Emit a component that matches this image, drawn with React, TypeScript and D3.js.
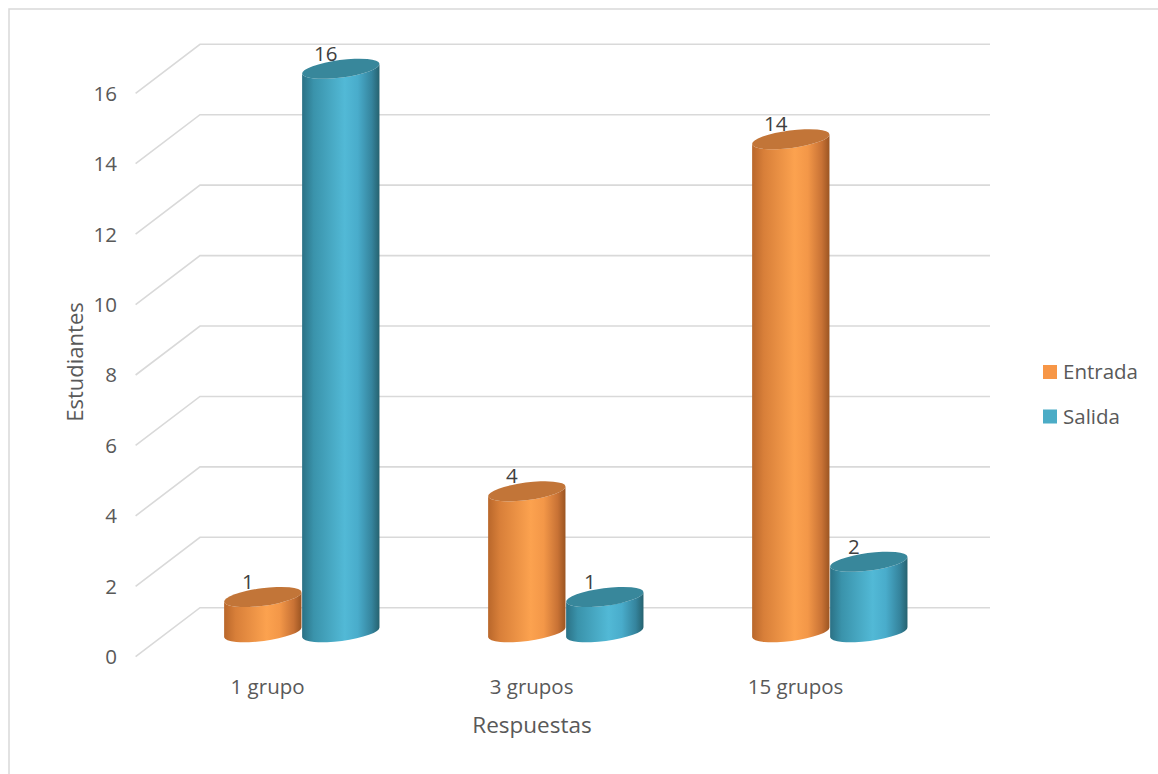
import React from "react";
import * as d3 from "d3";

// Data
const categories = ["1 grupo", "3 grupos", "15 grupos"];
const seriesNames = ["Entrada", "Salida"];
const entrada = [1, 4, 14];
const salida = [16, 1, 2];
const yTicks = [0, 2, 4, 6, 8, 10, 12, 14, 16];

const W = 1158;
const H = 774;

// Oblique 3D frame: back wall plus a depth offset towards the viewer
const DEPTH_DX = -64.4;
const DEPTH_DY = 49;
const BAR_DEPTH = 0.5;

const yBack = d3.scaleLinear().domain([0, 16]).range([607.7, 44.3]);
const xBack = d3.scaleBand<string>().domain(categories).range([200, 992]).paddingInner(0).paddingOuter(0);
const xSeries = d3.scaleBand<string>().domain(seriesNames).range([-76, 80]);

const GRID_LEFT = 200;
const GRID_RIGHT = 990;

const RX = 39;
const RY = 8.8;
const TILT = -7.4;
const tRad = (Math.abs(TILT) * Math.PI) / 180;

const FONT = "'Open Sans', 'Noto Sans', sans-serif";
const TEXT = "#595959";

const seriesValues = [entrada, salida];
const gradIds = ["gradEntrada", "gradSalida"];
const topFill = ["#c27538", "#38879b"];

function cylinderBody(cx: number, yTop: number, yBot: number) {
  const dx = RX * Math.cos(tRad);
  const dy = RX * Math.sin(tRad);
  const p = d3.path();
  p.moveTo(cx - dx, yTop + dy);
  p.lineTo(cx - dx, yBot + dy);
  let s = p.toString();
  s += ` A ${RX} ${RY} ${TILT} 0 0 ${cx + dx} ${yBot - dy}`;
  s += ` L ${cx + dx} ${yTop - dy}`;
  s += ` A ${RX} ${RY} ${TILT} 0 1 ${cx - dx} ${yTop + dy} Z`;
  return s;
}

export default function App() {
  const midDX = DEPTH_DX * BAR_DEPTH;
  const midDY = DEPTH_DY * BAR_DEPTH;
  const bw = xBack.bandwidth();

  return (
    <svg
      width={W}
      height={H}
      viewBox={`0 0 ${W} ${H}`}
      style={{ position: "absolute", left: 0, top: 0, background: "#fff" }}
      fontFamily={FONT}
    >
      <defs>
        <linearGradient id="gradEntrada" x1="0" x2="1" y1="0" y2="0">
          <stop offset="0" stopColor="#b9672b" />
          <stop offset="0.15" stopColor="#d87f39" />
          <stop offset="0.55" stopColor="#fca24f" />
          <stop offset="0.72" stopColor="#f39748" />
          <stop offset="0.9" stopColor="#c87235" />
          <stop offset="1" stopColor="#9b5522" />
        </linearGradient>
        <linearGradient id="gradSalida" x1="0" x2="1" y1="0" y2="0">
          <stop offset="0" stopColor="#2b7185" />
          <stop offset="0.15" stopColor="#3a93ab" />
          <stop offset="0.55" stopColor="#52b9d6" />
          <stop offset="0.72" stopColor="#49accb" />
          <stop offset="0.9" stopColor="#35849d" />
          <stop offset="1" stopColor="#26626f" />
        </linearGradient>
      </defs>

      {/* chart area border */}
      <rect x={9} y={9} width={1200} height={820} fill="none" stroke="#d9d9d9" strokeWidth={1.5} />

      {/* gridlines: back wall + side wall diagonals */}
      <g stroke="#d9d9d9" strokeWidth={1.6} fill="none">
        {yTicks.map((t) => (
          <path
            key={t}
            d={`M ${GRID_LEFT + DEPTH_DX} ${yBack(t) + DEPTH_DY} L ${GRID_LEFT} ${yBack(t)} L ${GRID_RIGHT} ${yBack(t)}`}
          />
        ))}
      </g>

      {/* y tick labels */}
      <g fontSize={20.5} fill={TEXT} textAnchor="end">
        {yTicks.map((t) => (
          <text key={t} x={117} y={yBack(t) + DEPTH_DY} dy="0.36em">
            {t}
          </text>
        ))}
      </g>

      {/* cylinders */}
      {categories.map((c, ci) => {
        const catX = (xBack(c) as number) + bw / 2 + midDX;
        const base = yBack(0) + midDY;
        return (
          <g key={c}>
            {seriesNames.map((s, si) => {
              const v = seriesValues[si][ci];
              const cx = catX + (xSeries(s) as number) + xSeries.bandwidth() / 2;
              const yTop = yBack(v) + midDY;
              return (
                <g key={s}>
                  <path d={cylinderBody(cx, yTop, base)} fill={`url(#${gradIds[si]})`} />
                  <ellipse
                    cx={cx}
                    cy={yTop}
                    rx={RX}
                    ry={RY}
                    transform={`rotate(${TILT} ${cx} ${yTop})`}
                    fill={topFill[si]}
                  />
                  <text
                    x={cx - 15}
                    y={yTop - 8}
                    textAnchor="middle"
                    fontSize={20.5}
                    fill="#404040"
                  >
                    {v}
                  </text>
                </g>
              );
            })}
          </g>
        );
      })}

      {/* category labels on the front edge */}
      <g fontSize={20.5} fill={TEXT} textAnchor="middle">
        {categories.map((c) => (
          <text key={c} x={(xBack(c) as number) + bw / 2 + DEPTH_DX} y={694}>
            {c}
          </text>
        ))}
      </g>

      {/* axis titles */}
      <text x={532} y={733} fontSize={22.5} fill={TEXT} textAnchor="middle">
        Respuestas
      </text>
      <text
        transform="translate(83 362) rotate(-90)"
        fontSize={22}
        fill={TEXT}
        textAnchor="middle"
      >
        Estudiantes
      </text>

      {/* legend */}
      <g fontSize={20.5} fill={TEXT}>
        {seriesNames.map((s, i) => (
          <g key={s} transform={`translate(1043 ${365 + i * 44.5})`}>
            <rect width={14} height={14} fill={i === 0 ? "#f79646" : "#4bacc6"} />
            <text x={20} y={14}>
              {s}
            </text>
          </g>
        ))}
      </g>
    </svg>
  );
}
